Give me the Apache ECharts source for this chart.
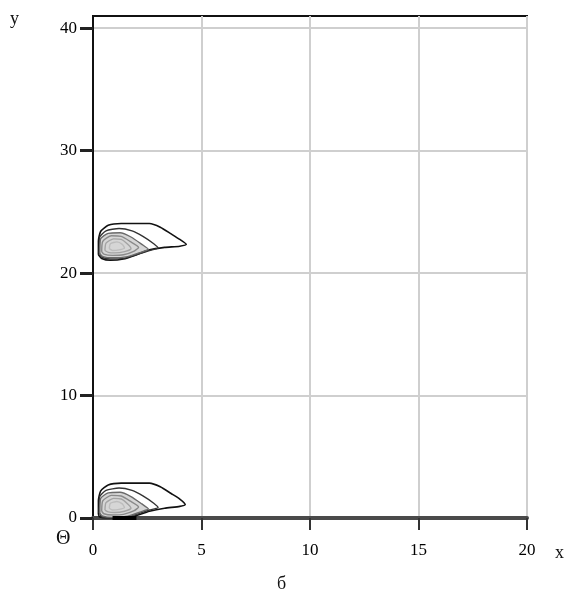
<!DOCTYPE html>
<html>
<head>
<meta charset="utf-8">
<script src="https://cdn.jsdelivr.net/npm/echarts@6/dist/echarts.min.js"></script>
<style>
html,body{margin:0;padding:0;background:#fff;}
#chart{width:565px;height:598px;}
</style>
</head>
<body>
<div id="chart"></div>
<script>
// Axis ticks
const xTicks = [0, 5, 10, 15, 20];
const yTicks = [0, 10, 20, 30, 40];

// Upper blob contour lines (outer -> inner)
const upper1 = [[0.25,21.5],[0.25,22.6],[0.35,23.4],[0.7,23.9],[1.3,24.05],[2.6,24.05],[3.1,23.75],[3.6,23.2],[4.0,22.75],[4.3,22.35],[4.0,22.2],[3.3,22.1],[2.6,21.9],[2.0,21.5],[1.4,21.15],[0.8,21.05],[0.4,21.2],[0.25,21.5]];
const upper2 = [[0.3,21.6],[0.3,22.9],[0.6,23.45],[1.2,23.65],[1.8,23.45],[2.3,23.0],[2.8,22.4],[3.0,22.05],[2.6,21.85],[2.0,21.5],[1.4,21.2],[0.8,21.15],[0.4,21.3],[0.3,21.6]];
const upper3 = [[0.3,21.6],[0.35,22.8],[0.7,23.25],[1.25,23.3],[1.75,22.95],[2.25,22.35],[2.55,21.95],[2.2,21.7],[1.6,21.35],[0.9,21.25],[0.45,21.35],[0.3,21.6]];
const upper4 = [[0.4,21.75],[0.45,22.6],[0.85,23.05],[1.3,23.0],[1.7,22.6],[2.1,22.1],[1.9,21.8],[1.4,21.5],[0.9,21.45],[0.5,21.55],[0.4,21.75]];
const upper5 = [[0.55,21.85],[0.6,22.45],[0.95,22.8],[1.3,22.75],[1.6,22.35],[1.75,22.0],[1.45,21.75],[1.0,21.65],[0.7,21.7],[0.55,21.85]];
const upper6 = [[0.75,22.0],[0.8,22.4],[1.1,22.55],[1.35,22.35],[1.45,22.05],[1.2,21.9],[0.9,21.85],[0.75,22.0]];

// Lower blob contour lines (outer -> inner), cut by y = 0
const lower1 = [[0.25,0.3],[0.25,1.4],[0.35,2.2],[0.7,2.7],[1.3,2.85],[2.6,2.85],[3.1,2.55],[3.6,2.0],[4.0,1.55],[4.25,1.1],[4.0,0.95],[3.3,0.8],[2.6,0.55],[2.0,0.2],[1.6,0.0],[0.6,0.0],[0.3,0.1],[0.25,0.3]];
const lower2 = [[0.3,0.4],[0.3,1.7],[0.6,2.25],[1.2,2.45],[1.8,2.25],[2.3,1.8],[2.8,1.2],[3.0,0.85],[2.6,0.65],[2.0,0.3],[1.5,0.05],[0.8,0.0],[0.4,0.1],[0.3,0.4]];
const lower3 = [[0.3,0.4],[0.35,1.6],[0.7,2.05],[1.25,2.1],[1.75,1.75],[2.25,1.15],[2.55,0.75],[2.2,0.5],[1.6,0.15],[0.9,0.05],[0.45,0.15],[0.3,0.4]];
const lower4 = [[0.4,0.55],[0.45,1.4],[0.85,1.85],[1.3,1.8],[1.7,1.4],[2.1,0.9],[1.9,0.6],[1.4,0.3],[0.9,0.25],[0.5,0.35],[0.4,0.55]];
const lower5 = [[0.55,0.65],[0.6,1.25],[0.95,1.6],[1.3,1.55],[1.6,1.15],[1.75,0.8],[1.45,0.55],[1.0,0.45],[0.7,0.5],[0.55,0.65]];
const lower6 = [[0.75,0.8],[0.8,1.2],[1.1,1.35],[1.35,1.15],[1.45,0.85],[1.2,0.7],[0.9,0.65],[0.75,0.8]];
const lowerEdge = [[0.9,0.0],[2.0,0.0]];

const levelColors = ['#111', '#333', '#6a6a6a', '#8a8a8a', '#a4a4a4', '#bdbdbd'];
const upperLines = [upper1, upper2, upper3, upper4, upper5, upper6];
const lowerLines = [lower1, lower2, lower3, lower4, lower5, lower6];

const series = [];
function addFill(data, color) {
  series.push({
    type: 'custom', silent: true, z: 3, clip: true,
    data: [0],
    renderItem: function (params, api) {
      const pts = data.map(p => api.coord(p));
      return { type: 'polygon', shape: { points: pts, smooth: 0.25 }, style: { fill: color, stroke: null } };
    }
  });
}
function addContour(data, color, width) {
  series.push({
    type: 'line', data: data, showSymbol: false, smooth: 0.2,
    lineStyle: { color: color, width: width }, silent: true, clip: true, z: 5
  });
}
addFill(upper3, '#d6d6d6');
addFill(lower3, '#d6d6d6');
upperLines.forEach((d, i) => addContour(d, levelColors[i], i === 0 ? 1.6 : 1.4));
lowerLines.forEach((d, i) => addContour(d, levelColors[i], i === 0 ? 1.6 : 1.4));
series.push({
  type: 'line', data: lowerEdge, showSymbol: false,
  lineStyle: { color: '#000', width: 4 }, silent: true, clip: false, z: 6
});

const chart = echarts.init(document.getElementById('chart'), null, { renderer: 'canvas' });
const serif = 'Liberation Serif';
chart.setOption({
  animation: false,
  backgroundColor: '#fff',
  grid: { left: 93, right: 38, top: 16, bottom: 80, show: true, borderColor: '#111', borderWidth: 2, backgroundColor: 'transparent' },
  xAxis: {
    type: 'value', min: xTicks[0], max: xTicks[xTicks.length - 1], interval: 5,
    axisLine: { show: true, onZero: false, lineStyle: { color: '#4a4a4a', width: 4 } },
    axisTick: { show: true, inside: false, length: 12, lineStyle: { color: '#333', width: 2 } },
    axisLabel: { show: true, margin: 24, color: '#000', fontFamily: serif, fontSize: 17 },
    splitLine: { show: true, lineStyle: { color: '#cfcfcf', width: 2 } }
  },
  yAxis: {
    type: 'value', min: yTicks[0], max: 41, interval: 10,
    axisLine: { show: true, onZero: false, lineStyle: { color: '#111', width: 2 } },
    axisTick: { show: true, inside: false, length: 13, customValues: yTicks, lineStyle: { color: '#222', width: 3 } },
    axisLabel: { show: true, margin: 16, color: '#000', fontFamily: serif, fontSize: 17, customValues: yTicks },
    splitLine: { show: true, lineStyle: { color: '#cfcfcf', width: 2 } }
  },
  graphic: [
    { type: 'text', left: 10, top: 10, style: { text: 'y', font: '18px "Liberation Serif"', fill: '#111' } },
    { type: 'text', left: 555, top: 544, style: { text: 'x', font: '18px "Liberation Serif"', fill: '#111' } },
    { type: 'text', left: 56, top: 529, style: { text: 'Θ', font: '20px "Liberation Serif"', fill: '#111' } },
    { type: 'text', left: 277, top: 575, style: { text: 'б', font: '18px "Liberation Serif"', fill: '#111' } }
  ],
  series: series
});
</script>
</body>
</html>
